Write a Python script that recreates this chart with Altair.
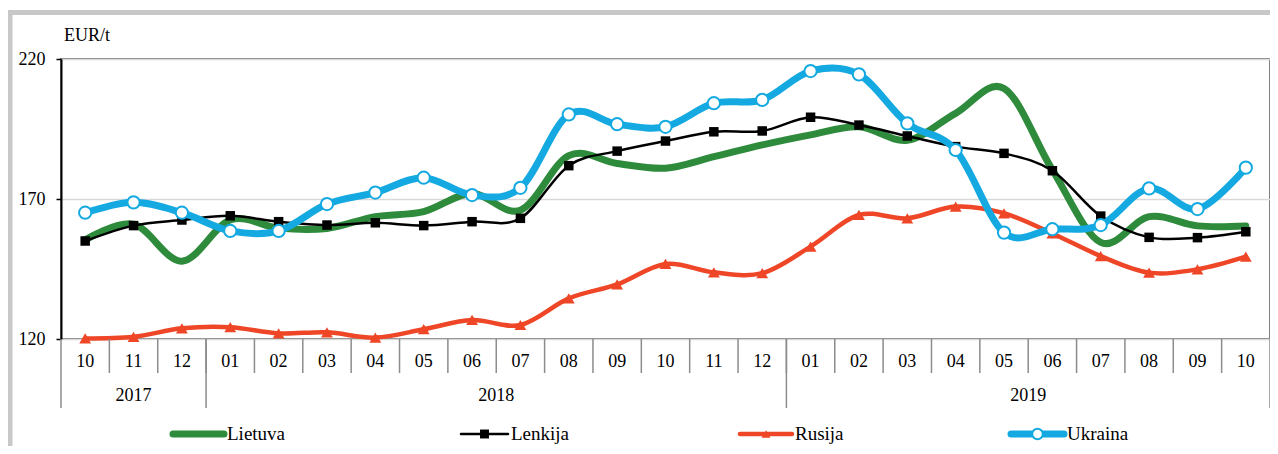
import altair as alt
import pandas as pd

# ---------------- data ----------------
months = ["10", "11", "12", "01", "02", "03", "04", "05", "06", "07", "08", "09",
          "10", "11", "12", "01", "02", "03", "04", "05", "06", "07", "08", "09", "10"]
years = ["2017"] * 3 + ["2018"] * 12 + ["2019"] * 10
lietuva = [155.4, 161.0, 147.8, 162.5, 159.6, 159.5, 163.7, 165.5, 172.0, 166.0, 185.5, 182.7,
           181.0, 185.1, 189.3, 192.9, 195.8, 191.0, 200.6, 209.5, 180.4, 154.5, 163.7, 160.4, 160.4]
lenkija = [155.0, 160.5, 162.5, 164.0, 161.9, 160.7, 161.5, 160.5, 161.9, 163.1, 181.9, 187.1,
           190.7, 194.0, 194.3, 199.2, 196.4, 192.5, 188.7, 186.3, 180.1, 163.9, 156.3, 156.2, 158.3]
rusija = [120.2, 120.8, 123.8, 124.2, 122.0, 122.4, 120.5, 123.5, 126.8, 125.0, 134.5, 139.5,
          146.8, 143.8, 143.5, 153.0, 164.3, 163.1, 167.3, 164.9, 157.7, 149.6, 143.7, 144.9, 149.4]
ukraina = [165.1, 168.8, 165.1, 158.6, 158.6, 168.2, 172.3, 177.6, 171.4, 174.0, 200.2, 196.7,
           195.8, 204.2, 205.4, 215.7, 214.5, 197.0, 187.5, 158.0, 159.2, 160.7, 173.8, 166.4, 181.2]
y_ticks = [120, 170, 220]
unit_label = "EUR/t"
series_names = ["Lietuva", "Lenkija", "Rusija", "Ukraina"]

# ---------------- styles / layout ----------------
FONT = "'Liberation Serif', 'DejaVu Serif', serif"
GREEN, BLACK, RED, BLUE = "#2E8B3C", "#000000", "#EE4626", "#14A9E1"
W, H = 1209, 280
n = len(months)

df = pd.DataFrame({"i": list(range(n)), "month": months, "year": years,
                   "Lietuva": lietuva, "Lenkija": lenkija, "Rusija": rusija, "Ukraina": ukraina})

xs = alt.Scale(domain=[-0.5, n - 0.5], nice=False, zero=False)
ys = alt.Scale(domain=[y_ticks[0], y_ticks[-1]], nice=False, zero=False)
X = alt.X("i:Q", scale=xs, axis=None)

base = alt.Chart(df)

yaxis = alt.Axis(values=y_ticks, title=None, labelFont=FONT, labelFontSize=18, labelColor="black",
                 labelPadding=11, domainColor="black", domainWidth=2, tickColor="black",
                 tickSize=5, tickWidth=1.5, grid=True, gridColor="#d9d9d9", gridWidth=1.5)


def Y(field):
    return alt.Y(f"{field}:Q", scale=ys, axis=yaxis)


def line(field, color, width):
    return base.mark_line(color=color, strokeWidth=width, interpolate="cardinal",
                          strokeCap="round", strokeJoin="round").encode(x=X, y=Y(field))


l_lt = line("Lietuva", GREEN, 7)
l_pl = line("Lenkija", BLACK, 2.5)
p_pl = base.mark_point(shape="square", filled=True, size=90, color=BLACK, opacity=1).encode(
    x=X, y=Y("Lenkija"))
l_ru = line("Rusija", RED, 4.5)
p_ru = base.mark_point(shape="triangle-up", filled=True, size=140, color=RED, opacity=1).encode(
    x=X, y=Y("Rusija"))
l_ua = line("Ukraina", BLUE, 7)
p_ua = base.mark_point(shape="circle", filled=True, size=150, fill="white", stroke=BLUE,
                       strokeWidth=2, opacity=1).encode(x=X, y=Y("Ukraina"))

# ---- custom category axis ----
month_txt = base.mark_text(font=FONT, fontSize=18, color="black", baseline="middle").encode(
    x=X, y=alt.value(H + 23), text="month:N")

sep_df = pd.DataFrame({"b": [i - 0.5 for i in range(1, n)]})
month_sep = alt.Chart(sep_df).mark_rule(color="#8c8c8c", strokeWidth=1.5).encode(
    x=alt.X("b:Q", scale=xs, axis=None), y=alt.value(H), y2=alt.value(H + 34))

bounds = [-0.5] + [i - 0.5 for i in range(1, n) if years[i] != years[i - 1]] + [n - 0.5]
ysep_df = pd.DataFrame({"b": bounds})
year_sep = alt.Chart(ysep_df).mark_rule(color="#8c8c8c", strokeWidth=1.5).encode(
    x=alt.X("b:Q", scale=xs, axis=None), y=alt.value(H), y2=alt.value(H + 69))

year_df = df.groupby("year", as_index=False)["i"].mean()
year_txt = alt.Chart(year_df).mark_text(font=FONT, fontSize=18, color="black",
                                        baseline="middle").encode(
    x=alt.X("i:Q", scale=xs, axis=None), y=alt.value(H + 57), text="year:N")

# ---- unit label ----
unit = alt.Chart(pd.DataFrame({"t": [unit_label]})).mark_text(
    font=FONT, fontSize=18, color="black", align="left", baseline="middle").encode(
    x=alt.value(3), y=alt.value(-23), text="t:N")

# ---- legend ----
LY = H + 95
legend_specs = [
    ("Lietuva", GREEN, 7, None, 112, 163),
    ("Lenkija", BLACK, 2.5, "square", 400, 447),
    ("Rusija", RED, 4.5, "triangle-up", 679, 731),
    ("Ukraina", BLUE, 7, "circle", 950, 1003),
]
legend_layers = []
for name, col, sw, shape, x1, x2 in legend_specs:
    ld = alt.Chart(pd.DataFrame({"name": [name]}))
    legend_layers.append(ld.mark_rule(color=col, strokeWidth=sw, strokeCap="round").encode(
        x=alt.value(x1), x2=alt.value(x2), y=alt.value(LY)))
    if shape == "circle":
        legend_layers.append(ld.mark_point(shape="circle", filled=True, size=110, fill="white",
                                           stroke=BLUE, strokeWidth=2, opacity=1).encode(
            x=alt.value((x1 + x2) / 2), y=alt.value(LY)))
    elif shape is not None:
        legend_layers.append(ld.mark_point(shape=shape, filled=True, size=80, color=col,
                                           opacity=1).encode(
            x=alt.value((x1 + x2) / 2), y=alt.value(LY)))
    legend_layers.append(ld.mark_text(font=FONT, fontSize=19, color="black", align="left",
                                      baseline="middle").encode(
        x=alt.value(x2 + 3), y=alt.value(LY), text="name:N"))

# ---- outer frame ----
fr = alt.Chart(pd.DataFrame({"a": [0]}))
frame_left = fr.mark_rule(color="#c8c8c8", strokeWidth=5).encode(
    x=alt.value(-51), y=alt.value(-49), y2=alt.value(400))
frame_top = fr.mark_rule(color="#c8c8c8", strokeWidth=5).encode(
    x=alt.value(-53.5), x2=alt.value(1230), y=alt.value(-46.5))

chart = alt.layer(
    frame_left, frame_top, unit,
    l_lt, l_pl, p_pl, l_ru, p_ru, l_ua, p_ua,
    month_sep, year_sep, month_txt, year_txt,
    *legend_layers
).properties(
    width=W, height=H,
    autosize=alt.AutoSizeParams(type="none"),
    padding={"left": 53, "top": 51, "right": 0, "bottom": 107},
    background="white",
).configure_view(stroke="#7f7f7f", strokeWidth=2)

chart.save("out.html", embed_options={"renderer": "svg", "actions": False})
